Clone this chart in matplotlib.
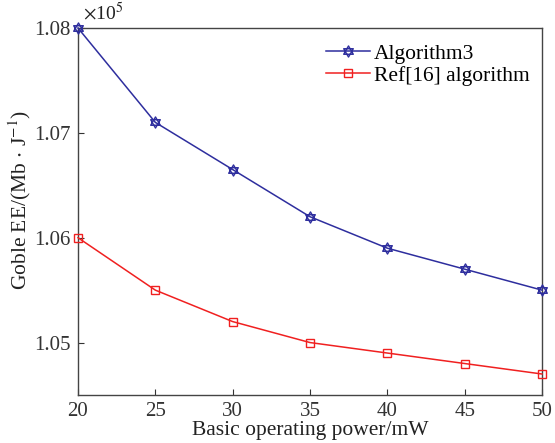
import numpy as np
import matplotlib.pyplot as plt
from matplotlib.path import Path

plt.rcParams['font.family'] = ['Liberation Serif', 'DejaVu Serif']
plt.rcParams['mathtext.fontset'] = 'stix'

power = [20, 25, 30, 35, 40, 45, 50]
ee_alg3 = [1.080, 1.071, 1.0665, 1.062, 1.059, 1.057, 1.055]
ee_ref16 = [1.060, 1.055, 1.052, 1.050, 1.049, 1.048, 1.047]

# six-pointed star marker built from two triangles
ang = np.deg2rad(np.arange(90, 450, 60))
up = np.column_stack([np.cos(ang[::2]), np.sin(ang[::2])])
dn = np.column_stack([np.cos(ang[1::2]), np.sin(ang[1::2])])
verts = np.vstack([up, up[:1], dn, dn[:1]])
codes = [Path.MOVETO, Path.LINETO, Path.LINETO, Path.CLOSEPOLY] * 2
hexagram = Path(verts, codes)

fig = plt.figure(figsize=(5.55, 4.43), dpi=100)
ax = fig.add_axes([0.1405, 0.1084, 0.8361, 0.8284])

ax.plot(power, ee_alg3, color='#2e2e9e', lw=1.1, marker=hexagram, ms=8,
        mfc='none', mew=1.0, label='Algorithm3', clip_on=False, zorder=3)
ax.plot(power, ee_ref16, color='#f02020', lw=1.1, marker='s', ms=6,
        mfc='none', mew=1.0, label='Ref[16] algorithm', clip_on=False, zorder=3)

ax.set_xlim(20, 50)
ax.set_ylim(1.045, 1.08)
ax.set_xticks(power)
ax.set_yticks([1.05, 1.06, 1.07, 1.08])
ax.set_yticklabels(['1.05', '1.06', '1.07', '1.08'])
ax.tick_params(direction='in', labelsize=15, colors='#333333', length=4, pad=5)
for s in ax.spines.values():
    s.set_color('#444444')
    s.set_linewidth(1.0)

ax.set_xlabel('Basic operating power/mW', fontsize=15.5, color='#222222', labelpad=0)
ax.set_ylabel(r'Goble EE/(Mb $\cdot$ J$^{-1}$)', fontsize=15.5, color='#222222')
ax.yaxis.set_label_coords(-0.097, 0.53)
ax.text(0.01, 1.01, r'$\times$10$^5$', transform=ax.transAxes, fontsize=14,
        color='#222222', ha='left', va='bottom')

ax.legend(loc='upper right', frameon=False, fontsize=15.5, handlelength=2.0,
          handletextpad=0.2, labelspacing=0.1, bbox_to_anchor=(1.015, 1.01))

fig.savefig('out.png', dpi=100)
